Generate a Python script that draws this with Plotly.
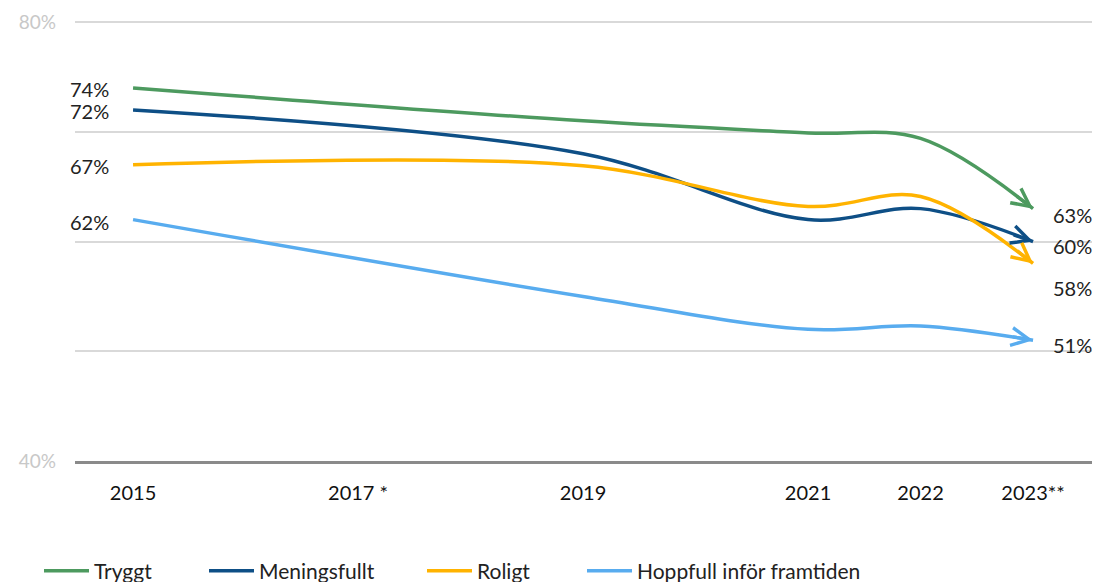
import plotly.graph_objects as go

years = [2015, 2019, 2021, 2022, 2023]
tick_years = [2015, 2017, 2019, 2021, 2022, 2023]
tick_labels = ["2015", "2017 *", "2019", "2021", "2022", "2023**"]

series_names = ["Tryggt", "Meningsfullt", "Roligt", "Hoppfull inför framtiden"]
tryggt = [74, 71, 69.9, 69.4, 63]
meningsfullt = [72, 68, 62, 63, 60]
roligt = [67, 66.9, 63.2, 64.1, 58]
hoppfull = [62, 55, 52, 52.3, 51]

colors = ["#4d9a5f", "#0e4f86", "#ffb300", "#58acef"]
start_labels = ["74%", "72%", "67%", "62%"]
end_labels = ["63%", "60%", "58%", "51%"]

values = [tryggt, meningsfullt, roligt, hoppfull]

FONT = "Lato"

fig = go.Figure()
legends = ["legend", "legend2", "legend3", "legend4"]
for name, vals, col, lg in zip(series_names, values, colors, legends):
    fig.add_trace(go.Scatter(
        x=years, y=vals, name=name, mode="lines",
        line=dict(color=col, width=3.5, shape="spline", smoothing=1),
        legend=lg, hoverinfo="skip",
    ))

# start labels
start_yshift = [-1, -1, -1, -2]
for vals, lab, ys in zip(values, start_labels, start_yshift):
    fig.add_annotation(x=years[0], y=vals[0], text=lab, showarrow=False,
                       xanchor="right", yanchor="middle", xshift=-22, yshift=ys,
                       font=dict(family=FONT, size=20, color="#222222"))

# end labels
end_yshift = [-6, -4, -25, -5]
for vals, lab, ys in zip(values, end_labels, end_yshift):
    fig.add_annotation(x=years[-1], y=vals[-1], text=lab, showarrow=False,
                       xanchor="left", yanchor="middle", xshift=18, yshift=ys,
                       font=dict(family=FONT, size=20, color="#222222"))

# arrowheads at the end of each line
arrow_dirs = [(-0.80, -0.60), (-0.95, -0.32), (-0.78, -0.63), (-0.985, -0.17)]
for vals, col, (dx, dy) in zip(values, colors, arrow_dirs):
    L = 22
    fig.add_annotation(x=years[-1], y=vals[-1], text="", showarrow=True,
                       ax=dx * L, ay=dy * L, axref="pixel", ayref="pixel",
                       arrowhead=5, arrowsize=1.1, arrowwidth=3.2,
                       arrowcolor=col, standoff=0)

# legends
legend_x = [39, 204, 422, 582]
layout_legends = {}
for lg, lx in zip(legends, legend_x):
    layout_legends[lg] = dict(
        x=lx / 1096, y=1 - 571 / 582, xref="container", yref="container",
        xanchor="left", yanchor="middle", orientation="h",
        itemwidth=45,
        font=dict(family=FONT, size=21, color="#222222"),
        bgcolor="rgba(0,0,0,0)", borderwidth=0,
    )

fig.update_layout(
    width=1096, height=582,
    margin=dict(l=75, r=4, t=21, b=121),
    paper_bgcolor="white", plot_bgcolor="white",
    font=dict(family=FONT, color="#222222"),
    showlegend=True,
    xaxis=dict(
        range=[2014.484, 2023.524],
        tickvals=tick_years, ticktext=tick_labels,
        showgrid=False, zeroline=False,
        showline=True, linecolor="#8a8a8a", linewidth=2.5,
        ticks="", ticklabelstandoff=12,
        tickfont=dict(family=FONT, size=20, color="#111111"),
        fixedrange=True,
    ),
    yaxis=dict(
        range=[40, 80.1],
        tickvals=[40, 50, 60, 70, 80],
        ticktext=["40%", "", "", "", "80%"],
        showgrid=True, gridcolor="#d9d9d9", gridwidth=2,
        zeroline=False, showline=False, ticks="",
        ticklabelstandoff=18,
        tickfont=dict(family=FONT, size=19, color="#c8c8c8"),
        fixedrange=True,
    ),
    **layout_legends,
)

fig.write_html(
    "out.html",
    config={"displayModeBar": False},
    post_script="document.body.style.margin='0';document.body.style.overflow='hidden';",
)
